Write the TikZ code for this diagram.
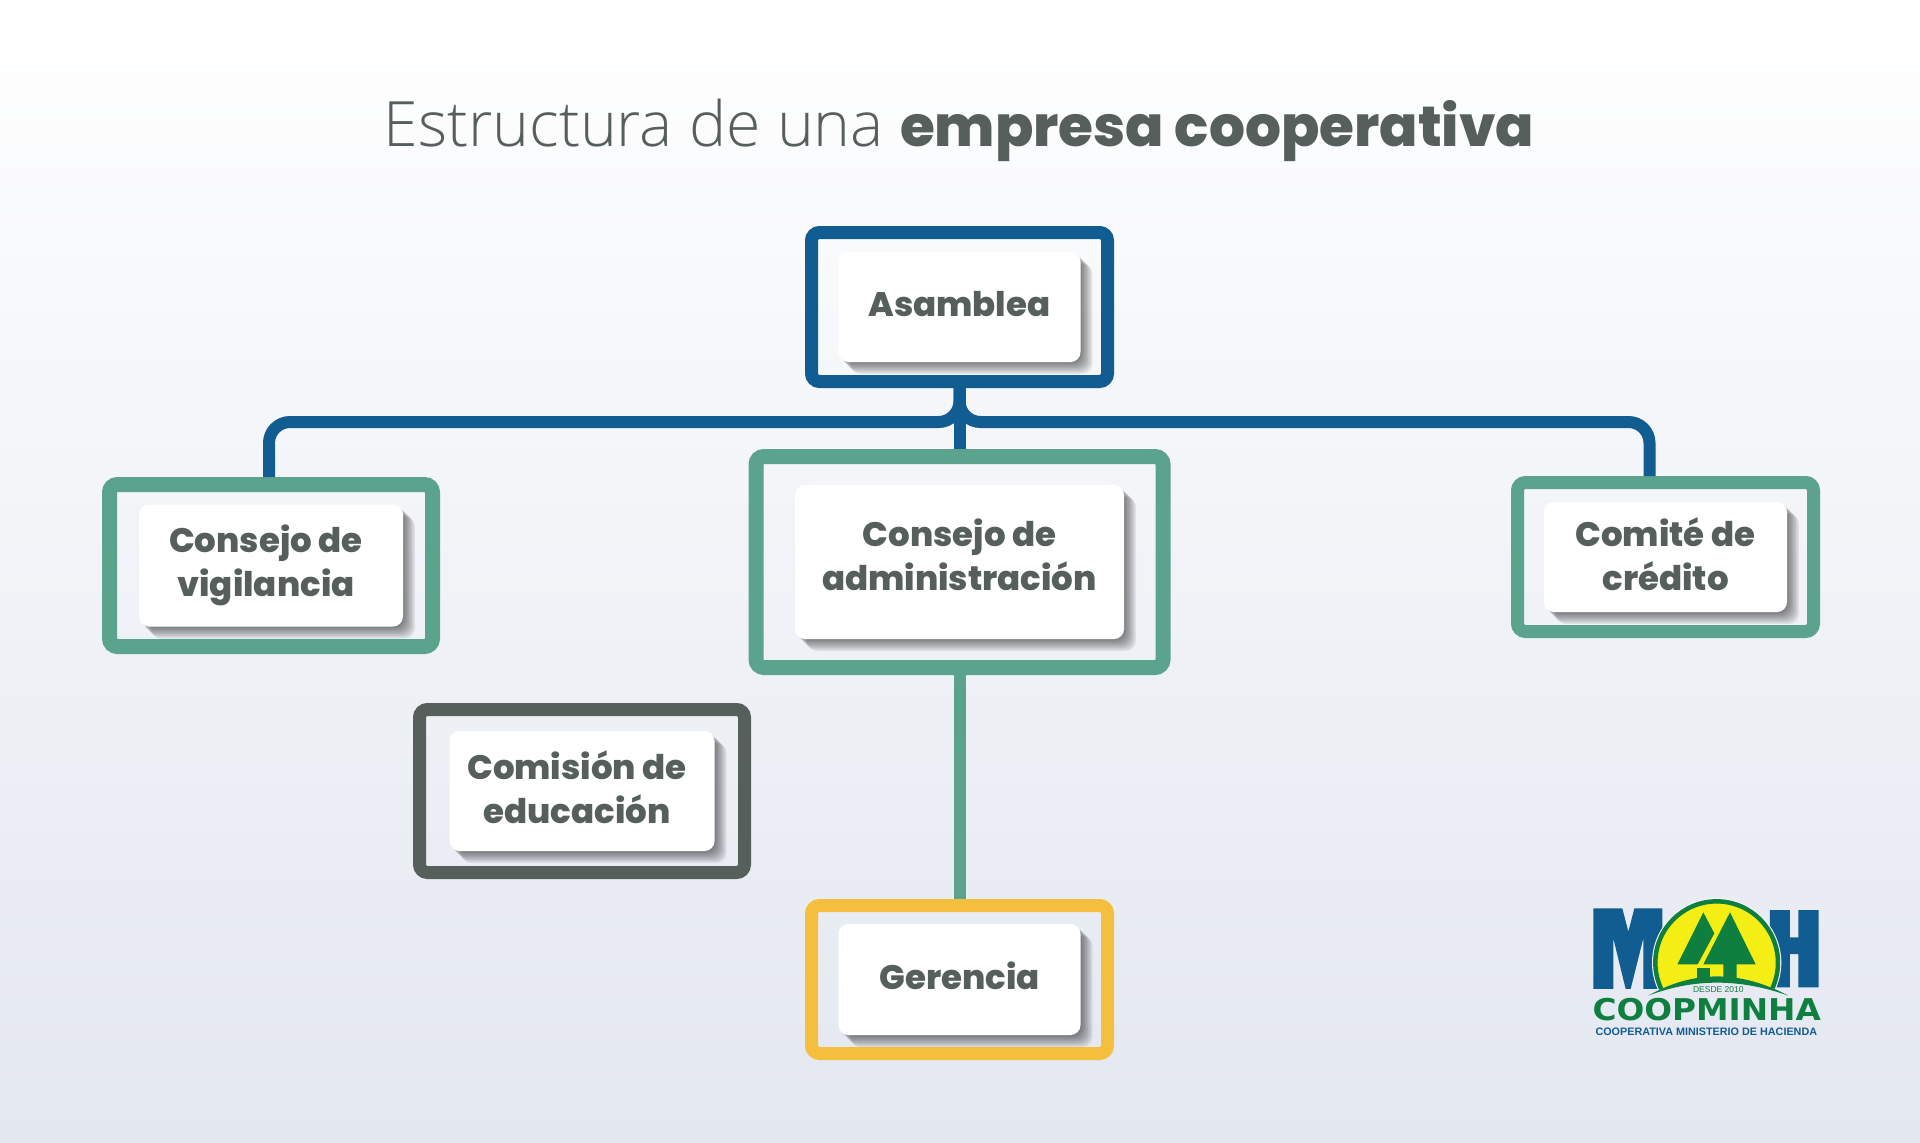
\documentclass[tikz,border=0pt]{standalone}
\usepackage{fontspec}
\setmainfont{Open Sans}
\newfontfamily\titlefont{Open Sans Light}
\newfontfamily\boxfont{Poppins ExtraBold}
\newfontfamily\logofont[FakeStretch=1.09]{DejaVu Sans}
\newfontfamily\logosmall{Liberation Sans}
\usetikzlibrary{shadows}
\definecolor{asablue}{HTML}{115C90}
\definecolor{consejogreen}{HTML}{5BA38D}
\definecolor{gerenciayellow}{HTML}{F4BF3F}
\definecolor{slategray}{HTML}{565F5C}
\definecolor{logogreen}{HTML}{0F7F40}
\definecolor{logoyellow}{HTML}{F4EE14}
\definecolor{bgbottom}{HTML}{E3E7F0}
\tikzstyle{softshadow} = [drop shadow={shadow xshift=#1, shadow yshift=-#1, opacity=.07, fill=black}]
\tikzstyle{frame} = [rectangle, rounded corners=8pt, line width=13pt, draw=asablue]
\tikzstyle{card} = [rectangle, rounded corners=10pt, fill=white, text=slategray, align=center, font=\boxfont\fontsize{34}{44}\selectfont, softshadow=1.5pt, softshadow=3pt, softshadow=4.5pt, softshadow=6pt, softshadow=7.5pt, softshadow=9pt, softshadow=10.5pt, softshadow=12pt]
\tikzstyle{link} = [line width=12pt, draw=asablue, rounded corners=21pt]
\newcommand{\nudge}{\hspace*{-10pt}}

\begin{document}
\begin{tikzpicture}[x=1pt, y=-1pt]
	\useasboundingbox (0,0) rectangle (1920,1143);
	\shade [top color=white, bottom color=bgbottom] (0,0) rectangle (1920,1143);

	\node (titulo) at (959,130) [text=slategray, font=\fontsize{62.5}{70}\selectfont] {{\titlefont Estructura de una} {\boxfont\fontsize{56.5}{70}\selectfont empresa cooperativa}};

	\node (asamblea) at (959.5,307) [frame, minimum width=296pt, minimum height=149pt] {};
	\node (vigilancia) at (271,565.5) [frame, draw=consejogreen, line width=15pt, minimum width=323pt, minimum height=162pt] {};
	\node (admin) at (959.5,562) [frame, draw=consejogreen, line width=15pt, minimum width=407pt, minimum height=211pt] {};
	\node (comite) at (1665.5,557) [frame, draw=consejogreen, minimum width=296pt, minimum height=149pt] {};
	\node (comision) at (582,791) [frame, draw=slategray, minimum width=325pt, minimum height=163pt] {};
	\node (gerencia) at (959.5,979.5) [frame, draw=gerenciayellow, minimum width=296pt, minimum height=148pt] {};

	\node (asamblearect) at (asamblea.center) [card, minimum width=242pt, minimum height=110pt, text depth=6.5pt] {Asamblea};
	\node (vigilanciarect) at (vigilancia.center) [card, minimum width=264pt, minimum height=122pt] {\nudge Consejo de\\\nudge vigilancia};
	\node (adminrect) at (admin.center) [card, minimum width=329pt, minimum height=154pt, text depth=14.5pt] {Consejo de\\administración};
	\node (comiterect) at (comite.center) [card, minimum width=243pt, minimum height=110pt, text depth=6.5pt] {Comité de\\crédito};
	\node (comisionrect) at (comision.center) [card, minimum width=265pt, minimum height=120pt, text depth=8.5pt] {\nudge Comisión de\\\nudge educación};
	\node (gerenciarect) at (gerencia.center) [card, minimum width=242pt, minimum height=111pt, text depth=8.5pt] {Gerencia};

	\coordinate (bus) at (959.5,422);
	\coordinate (vigilanciadrop) at ([xshift=-2pt]vigilancia.north);
	\coordinate (comitedrop) at ([xshift=-16pt]comite.north);

	\draw [link] (asamblea.south) -- (bus) -- (bus -| vigilanciadrop) -- (vigilanciadrop);
	\draw [link] (asamblea.south) -- (bus) -- (bus -| comitedrop) -- (comitedrop);
	\draw [link] (asamblea.south) -- (admin.north);
	\draw [link, draw=consejogreen] (admin.south) -- (gerencia.north);

	% logo
	\begin{scope}[shift={(1560,880)}, x=0.3333pt, y=-0.3333pt]
		\fill [asablue] (100,85) -- (187,85) -- (205,155) -- (223,85) -- (307,85) -- (307,327) -- (250,327) -- (250,175) -- (212,327) -- (197,327) -- (160,175) -- (160,327) -- (100,327) -- cycle;
		\fill [asablue] (630,90) -- (690,90) -- (690,172) -- (715,172) -- (715,90) -- (776,90) -- (776,322) -- (715,322) -- (715,222) -- (690,222) -- (690,322) -- (630,322) -- cycle;
		\begin{scope}
			\clip (265,347) .. controls (400,270) and (540,270) .. (685,347) -- (700,0) -- (250,0) -- cycle;
			\fill [white!60!bgbottom] (470,248) circle (194);
			\draw [logogreen, fill=logoyellow, line width=4.5pt] (470,248) circle (184);
		\end{scope}
		\fill [logogreen] (430,97) -- (463,160) -- (413,253) -- (352,253) -- cycle;
		\fill [logogreen] (410,265) -- (450,265) -- (450,295) -- (410,295) -- cycle;
		\fill [logogreen] (510,97) -- (587,253) -- (530,253) -- (530,295) -- (490,295) -- (490,253) -- (430,253) -- cycle;
		\fill [logogreen] (265,347) .. controls (400,270) and (540,270) .. (685,347) .. controls (540,295) and (400,295) .. (265,347) -- cycle;
		\node (desde) at (475,330) [text=logogreen, font=\logosmall\fontsize{8.5}{10}\selectfont] {DESDE 2010};
		\node (coopminha) at (440,388) [text=logogreen, font=\logofont\bfseries\fontsize{30}{36}\selectfont] {COOPMINHA};
		\node (lema) at (439,456) [text=asablue, font=\logosmall\bfseries\fontsize{10.8}{12}\selectfont] {COOPERATIVA MINISTERIO DE HACIENDA};
	\end{scope}
\end{tikzpicture}
\end{document}
